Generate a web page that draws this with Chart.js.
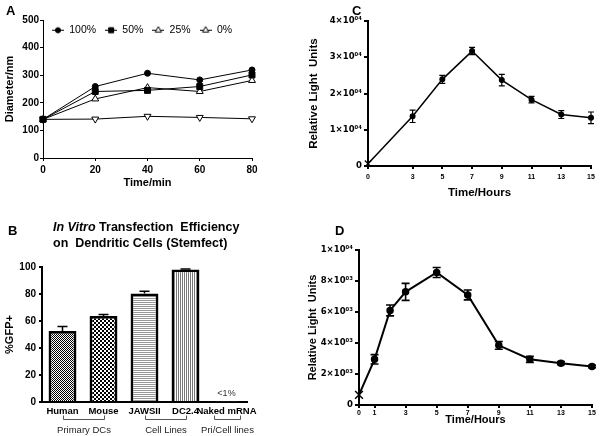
<!DOCTYPE html>
<html>
<head>
<meta charset="utf-8">
<script src="https://cdn.jsdelivr.net/npm/chart.js@4.4.1/dist/chart.umd.min.js"></script>
<style>
html,body{margin:0;padding:0;background:#fff}
body{width:600px;height:436px;position:relative;overflow:hidden;font-family:"Liberation Sans",Arial,sans-serif;color:#000}
.box{position:absolute}
.tag{position:absolute;font-weight:bold;font-size:13px;line-height:13px}
.ttl{position:absolute;left:53px;top:219px;font-weight:bold;font-size:12.5px;line-height:16px;white-space:pre}
</style>
</head>
<body>
<div class="box" style="left:0;top:0;width:300px;height:215px"><canvas id="cA"></canvas></div>
<div class="box" style="left:300px;top:0;width:300px;height:215px"><canvas id="cC"></canvas></div>
<div class="box" style="left:0;top:220px;width:300px;height:216px"><canvas id="cB"></canvas></div>
<div class="box" style="left:300px;top:220px;width:300px;height:216px"><canvas id="cD"></canvas></div>
<div class="tag" style="left:6px;top:4px">A</div>
<div class="tag" style="left:352px;top:4px">C</div>
<div class="tag" style="left:8px;top:224px">B</div>
<div class="tag" style="left:335px;top:224px">D</div>
<div class="ttl"><i>In Vitro</i> Transfection  Efficiency
on  Dendritic Cells (Stemfect)</div>
<script>
// ---------- DATA ----------
// Panel A
const timeA = [0, 20, 40, 60, 80];
const seriesA = ['100%', '50%', '25%', '0%'];
const diam100 = [140, 259, 307, 283, 319];
const diam50 = [140, 241, 245, 259, 301];
const diam25 = [140, 214, 255, 241, 281];
const diam0 = [140, 141, 151, 147, 142];

// Panel B
const cellTypes = ['Human', 'Mouse', 'JAWSII', 'DC2.4', 'Naked mRNA'];
const gfpPct = [52.6, 63.7, 80.3, 98.2, 0.5];
const gfpErr = [3.3, 1.2, 1.7, 0.4, 0];
const barNotes = ['', '', '', '', '<1%'];
const groupLabels = ['Primary DCs', 'Cell Lines', 'Pri/Cell lines'];
const groupSpans = [[0, 1], [2, 3], [4, 4]];

// Panel C
const hoursC = [0, 3, 5, 7, 9, 11, 13, 15];
const rluC = [650, 13700, 23900, 31700, 23700, 18300, 14200, 13300];
const errC = [0, 1700, 1100, 1000, 1600, 900, 1100, 1600];
const xTicksC = [0, 3, 5, 7, 9, 11, 13, 15];
const yTickLabelsC = ['0', '1×10⁰⁴', '2×10⁰⁴', '3×10⁰⁴', '4×10⁰⁴'];

// Panel D
const hoursD = [0, 1, 2, 3, 5, 7, 9, 11, 13, 15];
const rluD = [650, 2950, 6100, 7300, 8550, 7100, 3850, 2950, 2700, 2480];
const errD = [0, 300, 350, 550, 320, 320, 250, 200, 100, 80];
const xTicksD = [0, 1, 3, 5, 7, 9, 11, 13, 15];
const yTickLabelsD = ['0', '2×10⁰³', '4×10⁰³', '6×10⁰³', '8×10⁰³', '1×10⁰⁴'];

// ---------- SETUP ----------
Chart.defaults.font.family = '"Liberation Sans", Arial, sans-serif';
Chart.defaults.color = '#000';
Chart.defaults.devicePixelRatio = 1;

const errorBars = {
  id: 'errorBars',
  afterDatasetsDraw(chart, args, o) {
    const ctx = chart.ctx, y = chart.scales.y;
    chart.data.datasets.forEach((ds, di) => {
      if (!ds.errors) return;
      const meta = chart.getDatasetMeta(di);
      ctx.save();
      ctx.strokeStyle = '#000';
      ctx.lineWidth = o.width;
      meta.data.forEach((el, i) => {
        const e = ds.errors[i];
        if (!e) return;
        const d = ds.data[i];
        const v = typeof d === 'object' ? d.y : d;
        const x = el.x;
        const yt = y.getPixelForValue(v + e);
        const yb = o.upOnly ? y.getPixelForValue(v) : y.getPixelForValue(v - e);
        ctx.beginPath();
        ctx.moveTo(x, yt); ctx.lineTo(x, yb);
        ctx.moveTo(x - o.cap, yt); ctx.lineTo(x + o.cap, yt);
        if (!o.upOnly) { ctx.moveTo(x - o.cap, yb); ctx.lineTo(x + o.cap, yb); }
        ctx.stroke();
      });
      ctx.restore();
    });
  }
};

const legendInside = {
  id: 'legendInside',
  beforeLayout(chart) {
    const lg = chart.legend;
    if (lg && !lg._inside) {
      const fit = lg.fit;
      lg.fit = function () { fit.call(this); this._realH = this.height; this.height = 0; };
      lg._inside = true;
    }
  },
  afterLayout(chart, args, o) {
    const lg = chart.legend;
    if (!lg) return;
    lg.left = chart.chartArea.left + o.dx;
    lg.top = chart.chartArea.top + o.dy;
    lg.bottom = lg.top + (lg._realH || 20);
    lg.right = chart.width;
    lg.width = lg.right - lg.left;
  }
};

function legendImage(style, fill, rot) {
  const c = document.createElement('canvas');
  c.width = 12; c.height = 11;
  const g = c.getContext('2d');
  g.strokeStyle = '#000'; g.lineWidth = 1;
  g.beginPath(); g.moveTo(0, 5.5); g.lineTo(12, 5.5); g.stroke();
  g.fillStyle = fill;
  Chart.helpers.drawPoint(g, {pointStyle: style, radius: style === 'rect' ? 3.6 : (style === 'circle' ? 2.6 : 3.6), rotation: rot, borderWidth: 1}, 6, 5.5);
  return c;
}

function axisCommon(borderW, tickLen) {
  return {
    grid: {display: true, drawOnChartArea: false, drawTicks: true, tickLength: tickLen, color: '#000', lineWidth: borderW},
    border: {display: true, color: '#000', width: borderW}
  };
}

const supFont = {family: '"DejaVu Sans", sans-serif', size: 8.5, weight: 'bold'};

// ---------- PANEL A ----------
const valuesA = [diam100, diam50, diam25, diam0];
const markerA = ['circle', 'rect', 'triangle', 'triangle'];
const rotA = [0, 0, 0, 180];
const fillA = ['#000', '#000', '#fff', '#fff'];
const radA = [3, 4.2, 4, 4];
const legendImgsA = seriesA.map((s, k) => legendImage(markerA[k], fillA[k], rotA[k]));

new Chart(document.getElementById('cA'), {
  type: 'line',
  data: {
    datasets: seriesA.map((name, k) => ({
      label: name,
      data: timeA.map((t, i) => ({x: t, y: valuesA[k][i]})),
      borderColor: '#000',
      borderWidth: 1,
      pointStyle: markerA[k],
      pointRotation: rotA[k],
      pointRadius: radA[k],
      pointBackgroundColor: fillA[k],
      pointBorderColor: '#000',
      pointBorderWidth: 1,
      tension: 0,
      clip: false
    }))
  },
  options: {
    responsive: true, maintainAspectRatio: false, animation: false, events: [],
    layout: {padding: {left: 0, top: 20, right: 48, bottom: 0}},
    plugins: {
      tooltip: {enabled: false},
      legend: {
        display: true, position: 'top', align: 'start',
        labels: {
          usePointStyle: true, pointStyleWidth: 12, padding: 9,
          font: {size: 10.5}, color: '#000',
          generateLabels(chart) {
            const items = Chart.defaults.plugins.legend.labels.generateLabels(chart);
            items.forEach(it => { it.pointStyle = legendImgsA[it.datasetIndex]; });
            return items;
          }
        }
      },
      legendInside: {dx: 0, dy: -4}
    },
    scales: {
      x: Object.assign(axisCommon(1, 3), {
        type: 'linear', min: 0, max: 80,
        ticks: {stepSize: 20, font: {size: 10, weight: 'bold'}, padding: 3, color: '#000'},
        title: {display: true, text: 'Time/min', font: {size: 11, weight: 'bold'}, padding: {top: 0, bottom: 25}, color: '#000'},
        afterFit(s) { s.height = 57; }
      }),
      y: Object.assign(axisCommon(1, 3), {
        min: 0, max: 500,
        ticks: {stepSize: 100, font: {size: 10, weight: 'bold'}, padding: 1, color: '#000'},
        title: {display: true, text: 'Diameter/nm', font: {size: 11, weight: 'bold'}, padding: {top: 3, bottom: 0}, color: '#000'},
        afterFit(s) { s.width = 43; }
      })
    }
  },
  plugins: [legendInside]
});

// ---------- PANEL C ----------
new Chart(document.getElementById('cC'), {
  type: 'line',
  data: {
    datasets: [{
      label: 'RLU',
      data: hoursC.map((h, i) => ({x: h, y: rluC[i]})),
      errors: errC,
      borderColor: '#000', borderWidth: 1.5,
      pointStyle: hoursC.map((h, i) => i === 0 ? 'crossRot' : 'circle'),
      pointRadius: hoursC.map((h, i) => i === 0 ? 4.5 : 2.4),
      pointBackgroundColor: '#000', pointBorderColor: '#000', pointBorderWidth: 1.2,
      tension: 0,
      clip: false
    }]
  },
  options: {
    responsive: true, maintainAspectRatio: false, animation: false, events: [],
    layout: {padding: {left: 0, top: 21, right: 9, bottom: 0}},
    plugins: {
      legend: {display: false}, tooltip: {enabled: false},
      errorBars: {width: 1.2, cap: 3, upOnly: false}
    },
    scales: {
      x: Object.assign(axisCommon(2, 3), {
        type: 'linear', min: 0, max: 15,
        afterBuildTicks(ax) { ax.ticks = xTicksC.map(v => ({value: v})); },
        ticks: {font: {size: 7, weight: 'bold'}, padding: 4, color: '#000', autoSkip: false, maxRotation: 0},
        title: {display: true, text: 'Time/Hours', font: {size: 11.5, weight: 'bold'}, padding: {top: 0, bottom: 15}, color: '#000'},
        afterFit(s) { s.height = 49; }
      }),
      y: Object.assign(axisCommon(2, 4), {
        min: 0, max: 40000,
        ticks: {stepSize: 10000, font: supFont, padding: 2, color: '#000', callback: (v, i) => yTickLabelsC[i]},
        title: {display: true, text: 'Relative Light  Units', font: {size: 11.5, weight: 'bold'}, padding: {top: 7, bottom: 0}, color: '#000'},
        afterFit(s) { s.width = 68; }
      })
    }
  },
  plugins: [errorBars]
});

// ---------- PANEL D ----------
new Chart(document.getElementById('cD'), {
  type: 'line',
  data: {
    datasets: [{
      label: 'RLU',
      data: hoursD.map((h, i) => ({x: h, y: rluD[i]})),
      errors: errD,
      borderColor: '#000', borderWidth: 2,
      pointStyle: hoursD.map((h, i) => i === 0 ? 'crossRot' : 'circle'),
      pointRadius: hoursD.map((h, i) => i === 0 ? 5.5 : 3),
      pointBackgroundColor: '#000', pointBorderColor: '#000', pointBorderWidth: 1.5,
      tension: 0,
      clip: false
    }]
  },
  options: {
    responsive: true, maintainAspectRatio: false, animation: false, events: [],
    layout: {padding: {left: 0, top: 30, right: 8, bottom: 0}},
    plugins: {
      legend: {display: false}, tooltip: {enabled: false},
      errorBars: {width: 1.6, cap: 4, upOnly: false}
    },
    scales: {
      x: Object.assign(axisCommon(2, 3), {
        type: 'linear', min: 0, max: 15,
        afterBuildTicks(ax) { ax.ticks = xTicksD.map(v => ({value: v})); },
        ticks: {font: {size: 7, weight: 'bold'}, padding: 1, color: '#000', autoSkip: false, maxRotation: 0},
        title: {display: true, text: 'Time/Hours', font: {size: 11, weight: 'bold'}, padding: {top: 0, bottom: 9}, color: '#000'},
        afterFit(s) { s.height = 31; }
      }),
      y: Object.assign(axisCommon(2, 4), {
        min: 0, max: 10000,
        ticks: {stepSize: 2000, font: supFont, padding: 2, color: '#000', callback: (v, i) => yTickLabelsD[i]},
        title: {display: true, text: 'Relative Light  Units', font: {size: 11, weight: 'bold'}, padding: {top: 6, bottom: 0}, color: '#000'},
        afterFit(s) { s.width = 59; }
      })
    }
  },
  plugins: [errorBars]
});

// ---------- PANEL B ----------
const ctxB = document.getElementById('cB').getContext('2d');
function pattern(kind) {
  const c = document.createElement('canvas');
  let g;
  if (kind === 'fine') {
    c.width = 2; c.height = 2; g = c.getContext('2d');
    g.fillStyle = '#fff'; g.fillRect(0, 0, 2, 2);
    g.fillStyle = '#000'; g.fillRect(0, 0, 1, 1); g.fillRect(1, 1, 1, 1);
  } else if (kind === 'coarse') {
    c.width = 4; c.height = 4; g = c.getContext('2d');
    g.fillStyle = '#fff'; g.fillRect(0, 0, 4, 4);
    g.fillStyle = '#000'; g.fillRect(0, 0, 2, 2); g.fillRect(2, 2, 2, 2);
  } else if (kind === 'hlines') {
    c.width = 1; c.height = 2; g = c.getContext('2d');
    g.fillStyle = '#fff'; g.fillRect(0, 0, 1, 2);
    g.fillStyle = '#999'; g.fillRect(0, 0, 1, 1);
  } else if (kind === 'vlines') {
    c.width = 2; c.height = 1; g = c.getContext('2d');
    g.fillStyle = '#fff'; g.fillRect(0, 0, 2, 1);
    g.fillStyle = '#777'; g.fillRect(0, 0, 1, 1);
  } else {
    c.width = 1; c.height = 1; g = c.getContext('2d');
    g.fillStyle = '#fff'; g.fillRect(0, 0, 1, 1);
  }
  return ctxB.createPattern(c, 'repeat');
}
const barFills = ['fine', 'coarse', 'hlines', 'vlines', 'none'].map(pattern);

const barExtras = {
  id: 'barExtras',
  afterDraw(chart, args, o) {
    const ctx = chart.ctx, x = chart.scales.x, y = chart.scales.y;
    const meta = chart.getDatasetMeta(0);
    ctx.save();
    ctx.fillStyle = '#333'; ctx.font = '9px "Liberation Sans", Arial, sans-serif';
    ctx.textAlign = 'center'; ctx.textBaseline = 'middle';
    barNotes.forEach((t, i) => {
      if (!t) return;
      ctx.fillText(t, meta.data[i].x, y.getPixelForValue(gfpPct[i]) - 8);
    });
    ctx.strokeStyle = '#555'; ctx.lineWidth = 1;
    ctx.font = '9.5px "Liberation Sans", Arial, sans-serif';
    const yb = x.top + 17.5, yt = yb - 4;
    groupSpans.forEach((sp, k) => {
      let x0 = x.getPixelForValue(sp[0]), x1 = x.getPixelForValue(sp[1]);
      if (sp[0] === sp[1]) { x0 -= 13; x1 += 13; }
      x0 = Math.round(x0) + 0.5; x1 = Math.round(x1) + 0.5;
      ctx.beginPath();
      ctx.moveTo(x0, yt); ctx.lineTo(x0, yb); ctx.lineTo(x1, yb); ctx.lineTo(x1, yt);
      ctx.stroke();
      ctx.fillStyle = '#222';
      ctx.fillText(groupLabels[k], (x0 + x1) / 2, x.top + 28.5);
    });
    ctx.restore();
  }
};

new Chart(ctxB, {
  type: 'bar',
  data: {
    labels: cellTypes,
    datasets: [{
      label: '%GFP+',
      data: gfpPct,
      errors: gfpErr,
      backgroundColor: barFills,
      borderColor: '#000',
      borderWidth: 2.8,
      categoryPercentage: 1,
      barPercentage: 0.68
    }]
  },
  options: {
    responsive: true, maintainAspectRatio: false, animation: false, events: [],
    layout: {padding: {left: 0, top: 47, right: 53, bottom: 0}},
    plugins: {
      legend: {display: false}, tooltip: {enabled: false},
      errorBars: {width: 1.5, cap: 5, upOnly: true}
    },
    scales: {
      x: {
        grid: {display: false, drawTicks: false},
        border: {display: true, color: '#000', width: 2},
        ticks: {font: {size: 9.5, weight: 'bold'}, padding: 4, color: '#000', autoSkip: false, maxRotation: 0, minRotation: 0},
        afterFit(s) { s.height = 34; }
      },
      y: Object.assign(axisCommon(2, 3), {
        min: 0, max: 100,
        ticks: {stepSize: 20, font: {size: 10, weight: 'bold'}, padding: 3, color: '#000'},
        title: {display: true, text: '%GFP+', font: {size: 11, weight: 'bold'}, padding: {top: 3, bottom: 0}, color: '#000'},
        afterFit(s) { s.width = 42; }
      })
    }
  },
  plugins: [errorBars, barExtras]
});
</script>
</body>
</html>
